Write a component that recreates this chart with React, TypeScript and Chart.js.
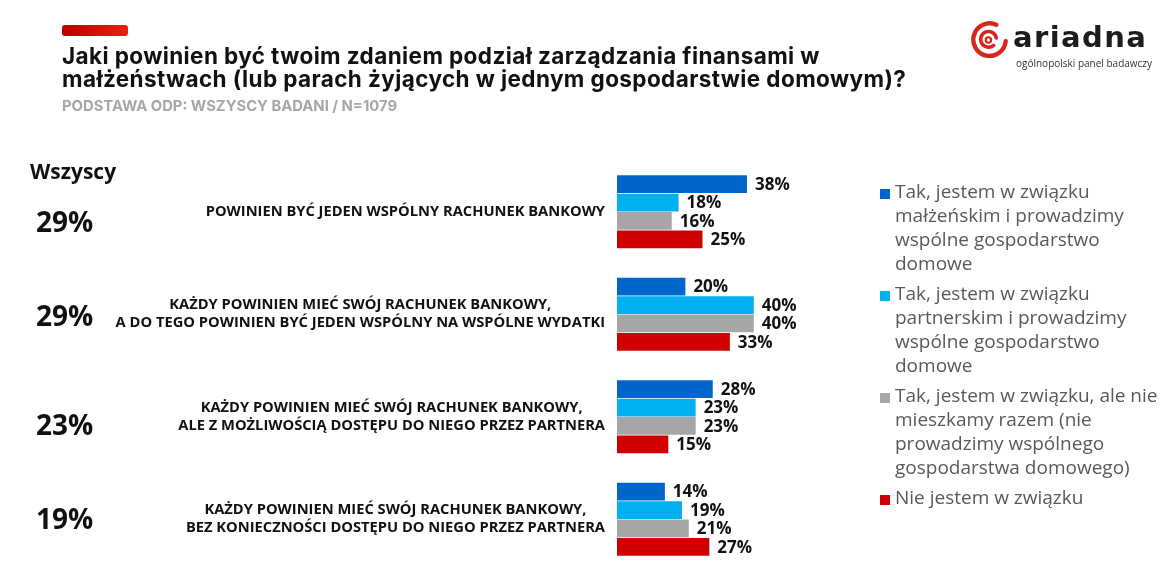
import React, { useEffect, useRef } from "react";
import { Chart, registerables } from "chart.js";

Chart.register(...registerables);

// ---------- DATA ----------
const categories: string[][] = [
  ["POWINIEN BYĆ JEDEN WSPÓLNY RACHUNEK BANKOWY"],
  ["KAŻDY POWINIEN MIEĆ SWÓJ RACHUNEK BANKOWY,", "A DO TEGO POWINIEN BYĆ JEDEN WSPÓLNY NA WSPÓLNE WYDATKI"],
  ["KAŻDY POWINIEN MIEĆ SWÓJ RACHUNEK BANKOWY,", "ALE Z MOŻLIWOŚCIĄ DOSTĘPU DO NIEGO PRZEZ PARTNERA"],
  ["KAŻDY POWINIEN MIEĆ SWÓJ RACHUNEK BANKOWY,", "BEZ KONIECZNOŚCI DOSTĘPU DO NIEGO PRZEZ PARTNERA"],
];
const totalsAll = [29, 29, 23, 19];
const married = [38, 20, 28, 14];
const partners = [18, 40, 23, 19];
const notTogether = [16, 40, 23, 21];
const single = [25, 33, 15, 27];

const seriesNames: string[][] = [
  ["Tak, jestem w związku", "małżeńskim i prowadzimy", "wspólne gospodarstwo", "domowe"],
  ["Tak, jestem w związku", "partnerskim i prowadzimy", "wspólne gospodarstwo", "domowe"],
  ["Tak, jestem w związku, ale nie", "mieszkamy razem (nie", "prowadzimy wspólnego", "gospodarstwa domowego)"],
  ["Nie jestem w związku"],
];
const seriesColors = ["#0066CC", "#00B0F0", "#A6A6A6", "#D00000"];

const TITLE = [
  "Jaki powinien być twoim zdaniem podział zarządzania finansami w",
  "małżeństwach (lub parach żyjących w jednym gospodarstwie domowym)?",
];
const SUBTITLE = "PODSTAWA ODP: WSZYSCY BADANI / N=1079";
const TOTAL_HEADER = "Wszyscy";

// layout tweaks (not data)
const totalsNudge = [12, 4, 10, 2];
const LABEL_RIGHT = 605;

const W = 1174;
const H = 575;

const textPlugin = {
  id: "customText",
  afterDatasetsDraw(chart: any) {
    const ctx = chart.ctx as CanvasRenderingContext2D;
    const ys = chart.scales.y;
    ctx.save();
    ctx.textBaseline = "middle";
    // value labels
    ctx.font = "700 17px 'Open Sans'";
    ctx.fillStyle = "#111";
    ctx.textAlign = "left";
    chart.data.datasets.forEach((ds: any, di: number) => {
      const meta = chart.getDatasetMeta(di);
      meta.data.forEach((bar: any, i: number) => {
        ctx.fillText(ds.data[i] + "%", bar.x + 8, bar.y + 1);
      });
    });
    // category labels
    ctx.font = "700 14.7px 'Open Sans'";
    ctx.textAlign = "center";
    categories.forEach((lines, i) => {
      const cy = ys.getPixelForValue(i);
      const maxW = Math.max(...lines.map((l) => ctx.measureText(l).width));
      const cx = LABEL_RIGHT - maxW / 2;
      lines.forEach((l, k) => {
        ctx.fillText(l, cx, cy + (k - (lines.length - 1) / 2) * 18);
      });
    });
    // totals
    ctx.font = "700 28px 'Open Sans'";
    ctx.textAlign = "left";
    totalsAll.forEach((v, i) => {
      ctx.fillText(v + "%", 36, ys.getPixelForValue(i) + totalsNudge[i]);
    });
    ctx.restore();
  },
};

function Logo() {
  return (
    <div style={{ position: "absolute", left: 968, top: 19, width: 190, height: 54 }}>
      <svg width="44" height="40" style={{ position: "absolute", left: 0, top: 0 }} viewBox="0 0 42 38">
        <path d="M 27 5.5 A 15.5 15.5 0 1 0 36 21" fill="none" stroke="#D9261C" strokeWidth="4.2" strokeLinecap="round" />
        <path d="M 27 18 A 7.5 7.5 0 1 0 24.5 25" fill="none" stroke="#D9261C" strokeWidth="3.4" strokeLinecap="round" />
        <circle cx="19.5" cy="20" r="2.6" fill="none" stroke="#D9261C" strokeWidth="2" />
      </svg>
      <div
        style={{
          position: "absolute",
          left: 45,
          top: 0,
          fontFamily: "'DejaVu Sans'",
          fontWeight: 700,
          fontSize: 29,
          letterSpacing: 1.4,
          color: "#1d1d1b",
          lineHeight: "36px",
        }}
      >
        ariadna
      </div>
      <div
        style={{
          position: "absolute",
          left: 48,
          top: 37,
          fontFamily: "'Open Sans'",
          fontSize: 10,
          color: "#333",
          whiteSpace: "nowrap",
        }}
      >
        ogólnopolski panel badawczy
      </div>
    </div>
  );
}

export default function App() {
  const canvasRef = useRef<HTMLCanvasElement | null>(null);

  useEffect(() => {
    const canvas = canvasRef.current;
    if (!canvas) return;
    const datasets = [married, partners, notTogether, single].map((d, i) => ({
      label: seriesNames[i].join(" "),
      data: d,
      backgroundColor: seriesColors[i],
      borderWidth: 0,
      categoryPercentage: 0.72,
      barPercentage: 0.96,
    }));
    const chart = new Chart(canvas, {
      type: "bar",
      data: { labels: categories.map((c) => c.join(" ")), datasets },
      options: {
        indexAxis: "y",
        responsive: false,
        animation: false,
        maintainAspectRatio: false,
        layout: { padding: { left: 617, right: W - 617 - 238, top: 160.5, bottom: 4.5 } },
        scales: {
          x: { display: false, min: 0, max: 69.6 },
          y: { display: false },
        },
        plugins: { legend: { display: false }, tooltip: { enabled: false } },
      },
      plugins: [textPlugin],
    } as any);
    return () => chart.destroy();
  }, []);

  return (
    <div style={{ position: "absolute", left: 0, top: 0, width: W, height: H, background: "#fff", overflow: "hidden" }}>
      <canvas ref={canvasRef} width={W} height={H} style={{ position: "absolute", left: 0, top: 0, display: "block" }} />
      <div
        style={{
          position: "absolute",
          left: 62,
          top: 25,
          width: 66,
          height: 11,
          borderRadius: 3,
          background: "linear-gradient(to right, #b80000, #e8230d)",
        }}
      />
      <div
        style={{
          position: "absolute",
          left: 62,
          top: 44,
          fontFamily: "Inter",
          fontWeight: 700,
          fontSize: 22.5,
          letterSpacing: 0.4,
          lineHeight: "23px",
          color: "#111",
          whiteSpace: "nowrap",
        }}
      >
        {TITLE.map((t, i) => (
          <div key={i}>{t}</div>
        ))}
      </div>
      <div
        style={{
          position: "absolute",
          left: 62,
          top: 97,
          fontFamily: "Inter",
          fontWeight: 700,
          fontSize: 14.8,
          color: "#A6A6A6",
          whiteSpace: "nowrap",
        }}
      >
        {SUBTITLE}
      </div>
      <Logo />
      <div
        style={{
          position: "absolute",
          left: 30,
          top: 157,
          fontFamily: "'Open Sans'",
          fontWeight: 700,
          fontSize: 21,
          color: "#111",
        }}
      >
        {TOTAL_HEADER}
      </div>
      <div style={{ position: "absolute", left: 880, top: 179 }}>
        {seriesNames.map((lines, i) => (
          <div key={i} style={{ position: "relative", marginBottom: 6, paddingLeft: 15 }}>
            <div
              style={{
                position: "absolute",
                left: 0,
                top: 10,
                width: 10,
                height: 10,
                background: seriesColors[i],
              }}
            />
            {lines.map((l, k) => (
              <div
                key={k}
                style={{
                  fontFamily: "'Open Sans'",
                  fontSize: 19,
                  lineHeight: "24px",
                  color: "#595959",
                  whiteSpace: "nowrap",
                }}
              >
                {l}
              </div>
            ))}
          </div>
        ))}
      </div>
    </div>
  );
}
